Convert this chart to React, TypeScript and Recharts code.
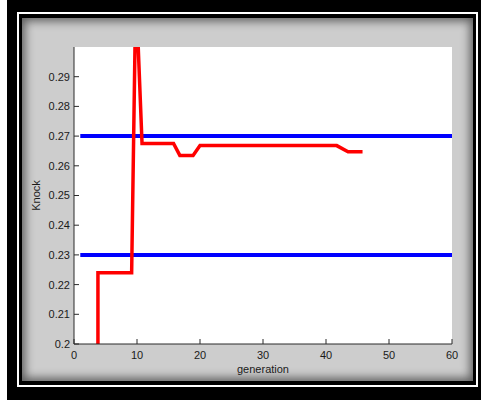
import { LineChart, Line, XAxis, YAxis } from "recharts";

// red trace: knock value per generation
const knockGen = [3.8, 3.8, 9.15, 9.82, 10.8, 15.8, 16.8, 18.9, 20, 41.7, 43.5, 45.8];
const knockVal = [0.2, 0.224, 0.224, 0.32, 0.2675, 0.2675, 0.2635, 0.2635, 0.2668, 0.2668, 0.2647, 0.2647];

// blue limits
const limitGen = [1, 60];
const upperLimit = 0.27;
const lowerLimit = 0.23;

const xTicks = [0, 10, 20, 30, 40, 50, 60];
const yTicks = [0.2, 0.21, 0.22, 0.23, 0.24, 0.25, 0.26, 0.27, 0.28, 0.29];

const knockData = knockGen.map((x, i) => ({ x, y: knockVal[i] }));
const upperData = limitGen.map((x) => ({ x, y: upperLimit }));
const lowerData = limitGen.map((x) => ({ x, y: lowerLimit }));

const font = "'Liberation Sans', Arial, sans-serif";
const tickStyle = { fontSize: 11, fill: "#1a1a1a", fontFamily: font };
const axisStroke = { stroke: "#2a2a2a" };
const noLabel = () => <g />;

export default function App() {
  return (
    <div style={{ position: "absolute", left: 0, top: 0, width: 481, height: 400, background: "#fff", overflow: "hidden" }}>
      <div style={{ position: "absolute", left: 7, top: 0, width: 474, height: 400, background: "#000" }} />
      <div style={{ position: "absolute", left: 17, top: 12, width: 457, height: 371, border: "2px solid #fff" }} />
      <div
        style={{
          position: "absolute",
          left: 22,
          top: 18,
          width: 451,
          height: 363,
          background: "#cdcdcd",
          boxShadow: "inset 0 0 10px 3px rgba(0,0,0,0.55)",
        }}
      />
      <div style={{ position: "absolute", left: 74, top: 47, width: 378, height: 297, background: "#fff" }} />
      <div style={{ position: "absolute", left: 0, top: 0 }}>
        <LineChart width={481} height={400} margin={{ top: 47, right: 29, left: 24, bottom: 16 }}>
          <XAxis
            xAxisId="b"
            dataKey="x"
            type="number"
            domain={[0, 60]}
            ticks={xTicks}
            height={40}
            tickSize={-5}
            tickMargin={12}
            tick={tickStyle}
            tickLine={axisStroke}
            axisLine={axisStroke}
            label={{ value: "generation", position: "insideBottom", offset: 11, style: { fontSize: 11, fill: "#1a1a1a", fontFamily: font } }}
          />
          <XAxis
            xAxisId="t"
            orientation="top"
            type="number"
            domain={[0, 60]}
            ticks={xTicks}
            height={0}
            tickSize={-5}
            tick={noLabel}
            tickLine={axisStroke}
            axisLine={axisStroke}
          />
          <YAxis
            yAxisId="l"
            type="number"
            domain={[0.2, 0.3]}
            allowDataOverflow
            ticks={yTicks}
            width={50}
            tickSize={-5}
            tickMargin={9}
            tick={tickStyle}
            tickLine={axisStroke}
            axisLine={axisStroke}
            tickFormatter={(v: number) => String(+v.toFixed(2))}
            label={{ value: "Knock", angle: -90, position: "insideLeft", offset: 12, style: { fontSize: 11, fill: "#1a1a1a", fontFamily: font, textAnchor: "middle" } }}
          />
          <YAxis
            yAxisId="r"
            orientation="right"
            type="number"
            domain={[0.2, 0.3]}
            ticks={yTicks}
            width={0}
            tickSize={-5}
            tick={noLabel}
            tickLine={axisStroke}
            axisLine={axisStroke}
          />
          <Line xAxisId="b" yAxisId="l" data={upperData} dataKey="y" type="linear" stroke="#0000ff" strokeWidth={4} dot={false} isAnimationActive={false} />
          <Line xAxisId="b" yAxisId="l" data={lowerData} dataKey="y" type="linear" stroke="#0000ff" strokeWidth={4} dot={false} isAnimationActive={false} />
          <Line xAxisId="b" yAxisId="l" data={knockData} dataKey="y" type="linear" stroke="#ff0000" strokeWidth={3.5} dot={false} isAnimationActive={false} />
        </LineChart>
      </div>
    </div>
  );
}
